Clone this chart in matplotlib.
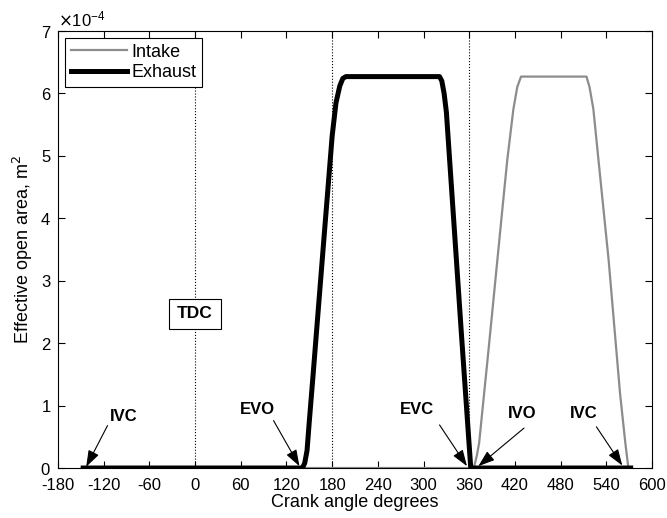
import numpy as np
import matplotlib
matplotlib.use("Agg")
import matplotlib.pyplot as plt

plt.rcParams['font.family'] = ['Liberation Sans', 'DejaVu Sans']
plt.rcParams['axes.unicode_minus'] = False

# valve open area vs crank angle (area in units of 1e-4 m^2)
exh_deg = [-147, 141, 144, 147, 150, 155, 160, 170, 180, 185, 190, 194, 198,
           321, 324, 327, 330, 340, 350, 358, 362, 572]
exh_area = [0, 0, 0.08, 0.28, 0.75, 1.5, 2.27, 3.8, 5.32, 5.85, 6.12, 6.24, 6.27,
            6.27, 6.2, 6.0, 5.7, 3.9, 2.1, 0.7, 0, 0]

int_deg = [-147, 366, 370, 373, 380, 384, 390, 397, 405, 410, 418, 423, 428,
           514, 518, 523, 530, 543, 550, 558, 565, 569, 572]
int_area = [0, 0, 0.2, 0.4, 1.25, 1.73, 2.47, 3.34, 4.33, 4.94, 5.75, 6.1, 6.27,
            6.27, 6.1, 5.75, 4.9, 3.34, 2.34, 1.2, 0.4, 0, 0]

xticks = list(range(-180, 601, 60))
tdc_lines = [0, 180, 360]

# event labels: (text, text pos, arrow tail, arrow tip) in (deg, 1e-4 m^2)
events = [
    ('IVC', (-94, 0.83), (-115, 0.68), (-143, 0.02)),
    ('EVO', (82, 0.93), (103, 0.76), (137, 0.03)),
    ('EVC', (291, 0.93), (321, 0.69), (357, 0.03)),
    ('IVO', (429, 0.88), (432, 0.64), (372, 0.03)),
    ('IVC', (510, 0.88), (527, 0.66), (561, 0.04)),
]

fig = plt.figure(figsize=(6.67, 5.18), dpi=100)
ax = fig.add_axes([0.087, 0.0965, 0.8905, 0.8436])

scale = 1e-4
for x in tdc_lines:
    ax.axvline(x, color='k', ls=':', lw=0.8)

ax.plot(int_deg, np.array(int_area) * scale, color='0.55', lw=1.6, label='Intake')
ax.plot(exh_deg, np.array(exh_area) * scale, color='k', lw=3.6, label='Exhaust')

for txt, tpos, tail, tip in events:
    ax.text(tpos[0], tpos[1] * scale, txt, ha='center', va='center',
            fontsize=12, fontweight='bold')
    ax.annotate('', xy=(tip[0], tip[1] * scale), xytext=(tail[0], tail[1] * scale),
                arrowprops=dict(arrowstyle='-|>,head_length=1.0,head_width=0.35',
                                color='k', lw=0.8, shrinkA=0, shrinkB=0))

ax.text(0, 2.47 * scale, 'TDC', ha='center', va='center', fontsize=12.5,
        fontweight='bold',
        bbox=dict(boxstyle='square,pad=0.45', fc='white', ec='k', lw=0.8))

ax.set_xlim(-180, 600)
ax.set_ylim(0, 7e-4)
ax.set_xticks(xticks)
ax.set_yticks(np.arange(0, 8) * scale)
ax.ticklabel_format(axis='y', style='sci', scilimits=(0, 0), useMathText=True)
ax.yaxis.get_offset_text().set_fontsize(12)
ax.tick_params(direction='in', top=True, right=True, labelsize=12, length=5)
ax.tick_params(axis='x', pad=7)
ax.tick_params(axis='y', pad=5)
for s in ax.spines.values():
    s.set_linewidth(0.8)

ax.set_xlabel('Crank angle degrees', fontsize=13, labelpad=1)
ax.set_ylabel('Effective open area, m$^2$', fontsize=13, labelpad=4)

leg = ax.legend(loc='upper left', fontsize=13, handlelength=3.1, fancybox=False,
                edgecolor='k', framealpha=1, borderaxespad=0.4,
                labelspacing=0.2, handletextpad=0.25, borderpad=0.3)
leg.get_frame().set_linewidth(0.8)

fig.savefig('out.png', dpi=100)
